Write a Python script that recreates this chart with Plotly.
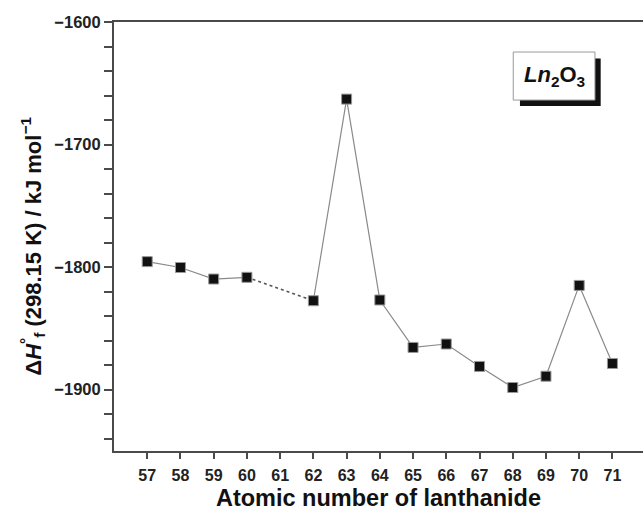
import plotly.graph_objects as go

atomic_numbers = [57, 58, 59, 60, 62, 63, 64, 65, 66, 67, 68, 69, 70, 71]
enthalpy = [-1795.5, -1800.3, -1809.7, -1808.3, -1827.4, -1662.9, -1826.8,
            -1865.5, -1862.7, -1881.0, -1898.2, -1889.0, -1814.9, -1878.6]
x_ticks = list(range(57, 72))
y_major = [-1600, -1700, -1800, -1900]

LINE = "#8a8a8a"
FONT = "Liberation Sans, Arial"
fig = go.Figure()

# solid segment 57-60
fig.add_trace(go.Scatter(x=atomic_numbers[0:4], y=enthalpy[0:4], mode="lines",
                         line=dict(color=LINE, width=1.2), showlegend=False, hoverinfo="skip"))
# dotted segment 60-62
fig.add_trace(go.Scatter(x=atomic_numbers[3:5], y=enthalpy[3:5], mode="lines",
                         line=dict(color="#555", width=1.5, dash="dot"), showlegend=False, hoverinfo="skip"))
# solid segment 62-71
fig.add_trace(go.Scatter(x=atomic_numbers[4:], y=enthalpy[4:], mode="lines",
                         line=dict(color=LINE, width=1.2), showlegend=False, hoverinfo="skip"))
# markers
fig.add_trace(go.Scatter(x=atomic_numbers, y=enthalpy, mode="markers",
                         marker=dict(symbol="square", size=10, color="#111111",
                                     line=dict(color="#999999", width=1)),
                         showlegend=False))

y_tickvals = list(range(-1940, -1599, 20))
y_ticktext = [("<b>\u2212" + str(abs(v)) + "</b>") if v in y_major else "" for v in y_tickvals]

AX = "#4a4a4a"
fig.update_xaxes(range=[56, 71.92], tickvals=x_ticks, ticktext=["<b>%d</b>" % v for v in x_ticks],
                 showline=True, linecolor=AX, linewidth=2, mirror=True,
                 ticks="outside", ticklen=6, tickwidth=1.5, tickcolor=AX,
                 showgrid=False, zeroline=False, automargin=False, ticklabelstandoff=3,
                 tickfont=dict(family=FONT, size=16, color="#222"),
                 title=dict(text="<b>Atomic number of lanthanide</b>", standoff=6,
                            font=dict(family=FONT, size=23.5, color="#111")))
fig.update_yaxes(range=[-1950, -1600], tickvals=y_tickvals, ticktext=y_ticktext,
                 showline=True, linecolor=AX, linewidth=2, mirror=False,
                 ticks="outside", ticklen=8, tickwidth=1.5, tickcolor=AX,
                 showgrid=False, zeroline=False, automargin=False,
                 tickfont=dict(family=FONT, size=16.5, color="#222"))

# y-axis title as a rotated annotation (slightly below centre, as in the reference)
fig.add_annotation(xref="paper", yref="paper", x=(33 - 114) / 529, y=(451 - 247) / 428.3,
                   text="<b>\u0394<i>H</i><sup>\u00b0</sup><sub>f</sub> (298.15 K) / kJ mol<sup>\u22121</sup></b>",
                   textangle=-90, showarrow=False, xanchor="center", yanchor="middle",
                   font=dict(family=FONT, size=22, color="#111"))

# label box with shadow
fig.add_shape(type="rect", xref="paper", yref="paper", x0=0.7674, x1=0.920, y0=0.804, y1=0.915,
              fillcolor="#111111", line=dict(width=0), layer="above")
fig.add_shape(type="rect", xref="paper", yref="paper", x0=0.7547, x1=0.9092, y0=0.818, y1=0.930,
              fillcolor="white", line=dict(color="#999999", width=1), layer="above")
fig.add_annotation(xref="paper", yref="paper", x=(0.7547 + 0.9092) / 2, y=(0.818 + 0.930) / 2,
                   text="<b><i>Ln</i><sub>2</sub>O<sub>3</sub></b>", showarrow=False,
                   font=dict(family=FONT, size=22, color="#111"),
                   xanchor="center", yanchor="middle")

fig.update_layout(width=643, height=514, margin=dict(l=114, r=0, t=22, b=63),
                  plot_bgcolor="white", paper_bgcolor="white")

fig.write_html("out.html", config={"displayModeBar": False},
               post_script="document.body.style.margin='0';")
